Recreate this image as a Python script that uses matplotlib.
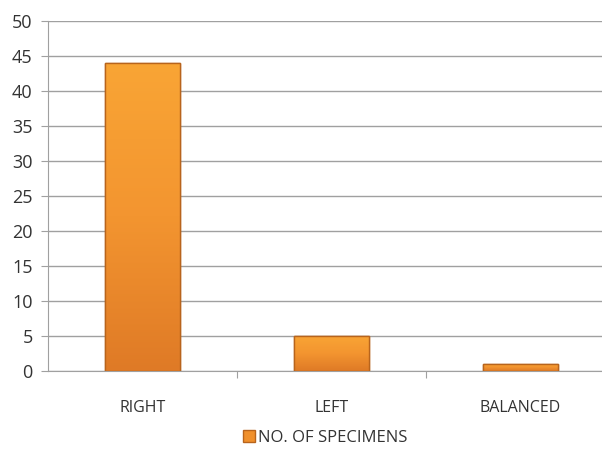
import matplotlib.pyplot as plt
import numpy as np
from matplotlib.colors import LinearSegmentedColormap
from matplotlib.patches import Rectangle

categories = ['RIGHT', 'LEFT', 'BALANCED']
specimens = [44, 5, 1]
series_label = 'NO. OF SPECIMENS'

plt.rcParams['font.family'] = ['Open Sans', 'DejaVu Sans']

fig = plt.figure(figsize=(6.02, 4.54), dpi=100)
ax = fig.add_axes([0.0797, 0.1828, 0.942, 0.771])

x = np.arange(len(categories))
bars = ax.bar(x, specimens, width=0.40, color='#F0902C', edgecolor='#B8641C',
              linewidth=1.0, zorder=3)

# vertical gradient inside each bar
cmap = LinearSegmentedColormap.from_list('orng', ['#F9A535', '#F39530', '#DF7A26'])
grad = np.linspace(0, 1, 256).reshape(-1, 1)
for b in bars:
    x0, y0 = b.get_x(), b.get_y()
    w, h = b.get_width(), b.get_height()
    im = ax.imshow(grad, cmap=cmap, aspect='auto', extent=[x0, x0 + w, y0, y0 + h],
                   origin='upper', zorder=3.5)
    im.set_clip_path(b)
    ax.add_patch(Rectangle((x0, y0), w, h, fill=False, edgecolor='#B8641C',
                           linewidth=1.0, zorder=4))

ax.set_xlim(-0.5, 2.5)
ax.set_ylim(0, 50)
ax.set_yticks(range(0, 51, 5))
ax.yaxis.grid(True, color='#A0A0A0', linewidth=1.0, zorder=0)
ax.set_axisbelow(True)

ax.set_xticks([0.5, 1.5], minor=False)
ax.set_xticklabels([])
ax.set_xticks(x, minor=True)
ax.set_xticklabels(categories, minor=True)
ax.tick_params(axis='x', which='minor', length=0, pad=21, labelsize=11.5, labelcolor='#333333')
ax.tick_params(axis='x', which='major', length=5, color='#A0A0A0')
ax.tick_params(axis='y', length=5, color='#A0A0A0', labelsize=13, labelcolor='#333333', pad=6)

for s in ['top', 'right']:
    ax.spines[s].set_visible(False)
ax.spines['left'].set_color('#A0A0A0')
ax.spines['bottom'].set_color('#A0A0A0')

legend_handle = Rectangle((0, 0), 1, 1, facecolor='#F0902C', edgecolor='#B8641C')
fig.legend([legend_handle], [series_label], loc='center', bbox_to_anchor=(0.54, 0.035),
           frameon=False, fontsize=12, handlelength=0.7, handleheight=0.7,
           handletextpad=0.2, labelcolor='#333333')

fig.savefig('out.png', dpi=100)
